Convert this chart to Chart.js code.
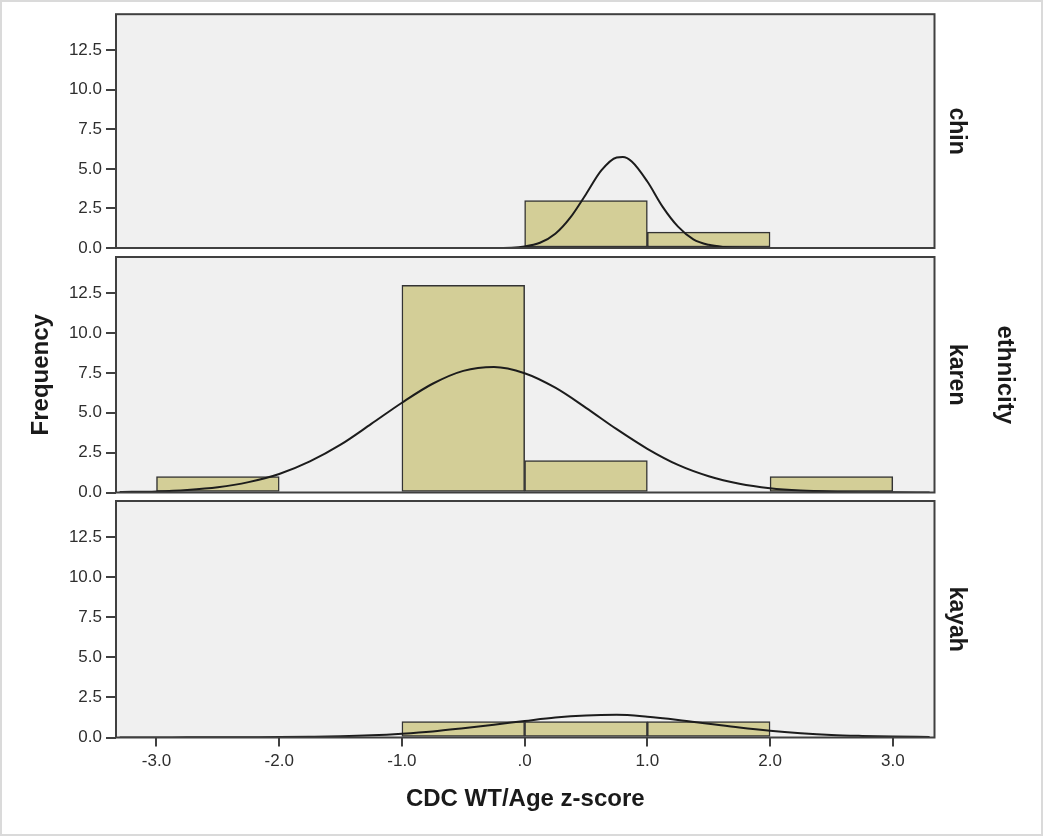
<!DOCTYPE html>
<html>
<head>
<meta charset="utf-8">
<title>CDC WT/Age z-score by ethnicity</title>
<script src="https://cdn.jsdelivr.net/npm/chart.js@4.4.0/dist/chart.umd.min.js"></script>
<style>
html,body{margin:0;padding:0;background:#fff}
#wrap{position:relative;width:1043px;height:837px;overflow:hidden}
#wrap canvas{position:absolute;left:0;top:0}
#frame{position:absolute;left:0;top:0;width:1043px;height:836px;box-sizing:border-box;border:2px solid #dadada;pointer-events:none}
</style>
</head>
<body>
<div id="wrap">
<canvas id="p0" width="1043" height="837"></canvas>
<canvas id="p1" width="1043" height="837"></canvas>
<canvas id="p2" width="1043" height="837"></canvas>
<div id="frame"></div>
</div>
<script>

// histogram bins (width 1.0) and counts per ethnicity
const binCenters=[-2.5,-1.5,-0.5,0.5,1.5,2.5]
const chinCounts=[0,0,0,3,1,0]
const karenCounts=[1,0,13,2,0,1]
const kayahCounts=[0,0,1,1,1,0]

// fitted normal curves
const chinCurveX=[-3.3,-2,-1,-0.25,0,0.125,0.25,0.375,0.5,0.625,0.75,0.8,0.875,1,1.125,1.25,1.375,1.5,1.625,1.75,2,2.5,3.3]
const chinCurveY=[0,0,0,0,0.1,0.33,0.9,1.95,3.4,4.9,5.72,5.75,5.45,4.2,2.6,1.35,0.55,0.2,0.06,0.01,0,0,0]

const curveX=[-3.3,-3,-2.75,-2.5,-2.25,-2,-1.75,-1.5,-1.25,-1,-0.75,-0.5,-0.25,0,0.25,0.5,0.75,1,1.25,1.5,1.75,2,2.25,2.5,2.75,3,3.3]
const karenCurveY=[0.03,0.07,0.16,0.33,0.65,1.16,1.95,3.0,4.3,5.63,6.82,7.63,7.87,7.48,6.57,5.31,3.97,2.74,1.73,1.02,0.55,0.27,0.12,0.05,0.02,0.01,0]
const kayahCurveY=[0,0,0.01,0.01,0.02,0.03,0.05,0.08,0.14,0.24,0.38,0.58,0.8,1.03,1.25,1.38,1.42,1.3,1.1,0.86,0.62,0.42,0.27,0.16,0.1,0.06,0.03]

const panelLabels=["chin","karen","kayah"]
const xTickValues=[-3,-2,-1,0,1,2,3]
const xTickLabels=["-3.0","-2.0","-1.0",".0","1.0","2.0","3.0"]
const yTickValues=[0,2.5,5,7.5,10,12.5]
const yTickLabels=["0.0","2.5","5.0","7.5","10.0","12.5"]
const xTitle="CDC WT/Age z-score"
const yTitle="Frequency"
const groupTitle="ethnicity"

Chart.defaults.font.family='"Liberation Sans", Arial, sans-serif'

const panelFrame={
id:"panelFrame",
beforeDraw(chart){
const a=chart.chartArea
const ctx=chart.ctx
ctx.save()
ctx.fillStyle="#f0f0f0"
ctx.fillRect(a.left,a.top,a.right-a.left,a.bottom-a.top)
ctx.restore()
},
afterDraw(chart){
const a=chart.chartArea
const ctx=chart.ctx
ctx.save()
ctx.strokeStyle="#404040"
ctx.lineWidth=2
ctx.strokeRect(a.left,a.top,a.right-a.left,a.bottom-a.top)
ctx.restore()
}
}

const panels=[
{counts:chinCounts,cx:chinCurveX,cy:chinCurveY,top:12,bottom:589},
{counts:karenCounts,cx:curveX,cy:karenCurveY,top:257,bottom:344.5},
{counts:kayahCounts,cx:curveX,cy:kayahCurveY,top:501,bottom:0}
]

panels.forEach((p,i)=>{

const last=i===panels.length-1
const middle=i===1

const scales={
x:{
type:"linear",
min:-3.33,
max:3.34,
offset:false,
display:last,
grid:{drawOnChartArea:false,offset:false,color:"#404040",lineWidth:2,tickLength:9},
border:{display:false},
ticks:{color:"#2e2e2e",font:{size:17},padding:5,maxRotation:0,autoSkip:false,callback:(v,k)=>xTickLabels[k]},
afterBuildTicks:s=>{s.ticks=xTickValues.map(v=>({value:v}))},
afterFit:s=>{if(last) s.height=99.5},
title:{display:last,text:xTitle,color:"#1a1a1a",font:{size:24,weight:"bold"},padding:{top:0,bottom:23.6}}
},
y:{
type:"linear",
position:"left",
min:0,
max:14.77,
grid:{drawOnChartArea:false,color:"#404040",lineWidth:2,tickLength:10},
border:{display:false},
ticks:{color:"#2e2e2e",font:{size:17},padding:4,autoSkip:false,callback:(v,k)=>yTickLabels[k]},
afterBuildTicks:s=>{s.ticks=yTickValues.map(v=>({value:v}))},
afterFit:s=>{s.width=116},
title:{display:middle,text:yTitle,color:"#1a1a1a",font:{size:24,weight:"bold"},padding:{top:26.6,bottom:0}}
},
lab:{
type:"linear",
position:"right",
weight:0,
grid:{display:false},
border:{display:false},
ticks:{display:false},
afterFit:s=>{s.width=middle?50:108.5},
title:{display:true,text:panelLabels[i],color:"#1a1a1a",font:{size:23,weight:"bold"},padding:{top:middle?14.6:73.1,bottom:0}}
}
}

if(middle){
scales.eth={
type:"linear",
position:"right",
weight:1,
grid:{display:false},
border:{display:false},
ticks:{display:false},
afterFit:s=>{s.width=58.5},
title:{display:true,text:groupTitle,color:"#1a1a1a",font:{size:24,weight:"bold"},padding:{top:23.6,bottom:0}}
}
}

new Chart(document.getElementById("p"+i),{
type:"bar",
data:{
datasets:[
{
type:"line",
data:p.cx.map((x,k)=>({x:x,y:p.cy[k]})),
borderColor:"#1c1c1c",
borderWidth:2,
pointRadius:0,
fill:false,
cubicInterpolationMode:"monotone",
order:0
},
{
type:"bar",
data:binCenters.map((c,k)=>({x:c,y:p.counts[k]})),
backgroundColor:"#d3ce97",
borderColor:"#333333",
borderWidth:1.5,
borderSkipped:false,
barPercentage:1,
categoryPercentage:1,
order:1
}
]
},
options:{
responsive:false,
animation:false,
layout:{padding:{left:0,right:0,top:p.top,bottom:p.bottom}},
plugins:{legend:{display:false},tooltip:{enabled:false}},
scales:scales
},
plugins:[panelFrame]
})

})

</script>
</body>
</html>
